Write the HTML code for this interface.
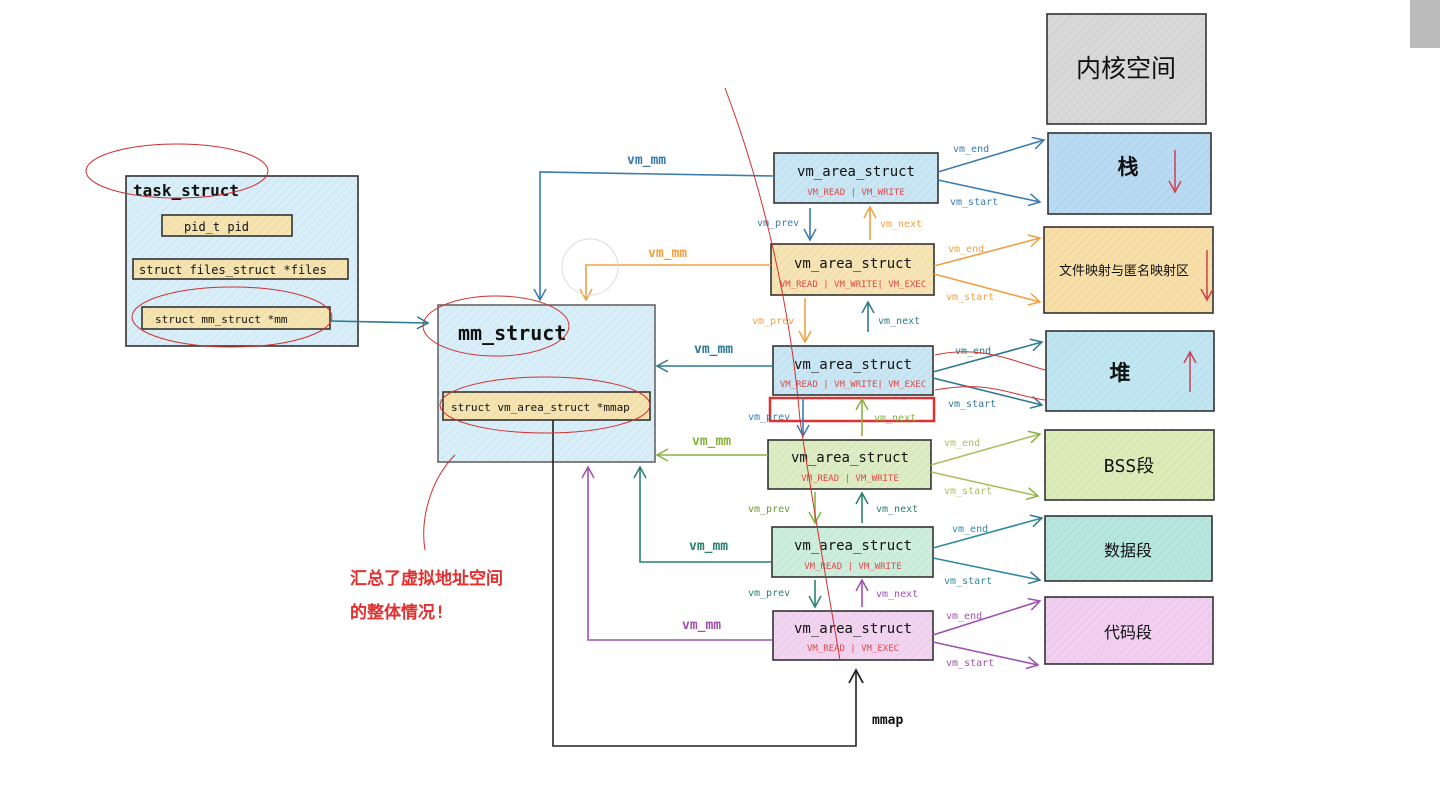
<!DOCTYPE html>
<html><head><meta charset="utf-8"><style>
html,body{margin:0;padding:0;background:#fff}
svg{display:block}
text{font-family:"DejaVu Sans Mono","Liberation Mono",monospace}
.cn{font-family:"Liberation Sans","Noto Sans CJK SC",sans-serif}
</style></head><body>
<svg width="1440" height="795" viewBox="0 0 1440 795" xmlns="http://www.w3.org/2000/svg">
<defs>
<pattern id="h" width="6" height="6" patternUnits="userSpaceOnUse" patternTransform="rotate(45)"><line x1="0" y1="0" x2="0" y2="6" stroke="#000" stroke-opacity="0.08" stroke-width="1"/></pattern>
<marker id="ab" markerWidth="14" markerHeight="14" refX="12" refY="7" orient="auto" markerUnits="userSpaceOnUse"><path d="M1,1 L12,7 L1,13" fill="none" stroke="#3b7bb0" stroke-width="1.5"/></marker>
<marker id="ao" markerWidth="14" markerHeight="14" refX="12" refY="7" orient="auto" markerUnits="userSpaceOnUse"><path d="M1,1 L12,7 L1,13" fill="none" stroke="#f0a040" stroke-width="1.5"/></marker>
<marker id="at" markerWidth="14" markerHeight="14" refX="12" refY="7" orient="auto" markerUnits="userSpaceOnUse"><path d="M1,1 L12,7 L1,13" fill="none" stroke="#2f7a90" stroke-width="1.5"/></marker>
<marker id="ag" markerWidth="14" markerHeight="14" refX="12" refY="7" orient="auto" markerUnits="userSpaceOnUse"><path d="M1,1 L12,7 L1,13" fill="none" stroke="#8ab040" stroke-width="1.5"/></marker>
<marker id="ad" markerWidth="14" markerHeight="14" refX="12" refY="7" orient="auto" markerUnits="userSpaceOnUse"><path d="M1,1 L12,7 L1,13" fill="none" stroke="#2a8070" stroke-width="1.5"/></marker>
<marker id="ap" markerWidth="14" markerHeight="14" refX="12" refY="7" orient="auto" markerUnits="userSpaceOnUse"><path d="M1,1 L12,7 L1,13" fill="none" stroke="#a050b0" stroke-width="1.5"/></marker>
<marker id="ak" markerWidth="16" markerHeight="16" refX="14" refY="8" orient="auto" markerUnits="userSpaceOnUse"><path d="M1,1 L14,8 L1,15" fill="none" stroke="#222" stroke-width="1.8"/></marker>
<marker id="ar" markerWidth="14" markerHeight="14" refX="12" refY="7" orient="auto" markerUnits="userSpaceOnUse"><path d="M1,1 L12,7 L1,13" fill="none" stroke="#d04050" stroke-width="1.5"/></marker>
</defs>
<g stroke="#333" stroke-width="1.6">
<rect x="126" y="176" width="232" height="170" fill="#d8eef8"/>
<rect x="162" y="215" width="130" height="21" fill="#f5e3b0"/>
<rect x="133" y="259" width="215" height="20" fill="#f5e3b0"/>
<rect x="142" y="307" width="188" height="22" fill="#f5e3b0"/>
<rect x="438" y="305" width="217" height="157" fill="#d8eef8" stroke="#666"/>
<rect x="443" y="392" width="207" height="28" fill="#f5e3b0"/>
<rect x="774" y="153" width="164" height="50" fill="#c8e6f4"/>
<rect x="771" y="244" width="163" height="51" fill="#f7e4b4"/>
<rect x="773" y="346" width="160" height="49" fill="#c8e6f4"/>
<rect x="768" y="440" width="163" height="49" fill="#dcedc4"/>
<rect x="772" y="527" width="161" height="50" fill="#cdeedd"/>
<rect x="773" y="611" width="160" height="49" fill="#f2d4f0"/>
<rect x="1047" y="14" width="159" height="110" fill="#d8d8d8"/>
<rect x="1048" y="133" width="163" height="81" fill="#b8daf2"/>
<rect x="1044" y="227" width="169" height="86" fill="#f8dfa8"/>
<rect x="1046" y="331" width="168" height="80" fill="#c0e6f2"/>
<rect x="1045" y="430" width="169" height="70" fill="#dcecb8"/>
<rect x="1045" y="516" width="167" height="65" fill="#b6e6de"/>
<rect x="1045" y="597" width="168" height="67" fill="#f2cef0"/>
</g>
<g fill="url(#h)" stroke="none">
<rect x="126" y="176" width="232" height="170"/><rect x="438" y="305" width="217" height="157"/>
<rect x="774" y="153" width="164" height="50"/><rect x="771" y="244" width="163" height="51"/><rect x="773" y="346" width="160" height="49"/><rect x="768" y="440" width="163" height="49"/><rect x="772" y="527" width="161" height="50"/><rect x="773" y="611" width="160" height="49"/>
<rect x="1047" y="14" width="159" height="110"/><rect x="1048" y="133" width="163" height="81"/><rect x="1044" y="227" width="169" height="86"/><rect x="1046" y="331" width="168" height="80"/><rect x="1045" y="430" width="169" height="70"/><rect x="1045" y="516" width="167" height="65"/><rect x="1045" y="597" width="168" height="67"/>
</g>
<rect x="770" y="398" width="164" height="23" fill="none" stroke="#e03030" stroke-width="2.5"/>
<g fill="#111">
<text x="133" y="196" font-size="16" font-weight="bold">task_struct</text>
<text x="184" y="231" font-size="12">pid_t  pid</text>
<text x="139" y="274" font-size="12">struct files_struct *files</text>
<text x="155" y="323" font-size="11">struct mm_struct    *mm</text>
<text x="458" y="340" font-size="20" font-weight="bold">mm_struct</text>
<text x="451" y="411" font-size="11">struct vm_area_struct *mmap</text>
<g font-size="14" text-anchor="middle">
<text x="856" y="176">vm_area_struct</text>
<text x="853" y="268">vm_area_struct</text>
<text x="853" y="369">vm_area_struct</text>
<text x="850" y="462">vm_area_struct</text>
<text x="853" y="550">vm_area_struct</text>
<text x="853" y="633">vm_area_struct</text>
</g>
<g class="cn" text-anchor="middle">
<text x="1126" y="77" font-size="25">内核空间</text>
<text x="1128" y="174" font-size="21" font-weight="bold">栈</text>
<text x="1124" y="275" font-size="13">文件映射与匿名映射区</text>
<text x="1120" y="380" font-size="21" font-weight="bold">堆</text>
<text x="1129" y="472" font-size="18">BSS段</text>
<text x="1128" y="556" font-size="16">数据段</text>
<text x="1128" y="638" font-size="16">代码段</text>
</g>
<text x="872" y="724" font-size="13" font-weight="bold">mmap</text>
</g>
<g fill="#e04848" font-size="9" text-anchor="middle">
<text x="856" y="195">VM_READ | VM_WRITE</text>
<text x="853" y="287">VM_READ | VM_WRITE| VM_EXEC</text>
<text x="853" y="387">VM_READ | VM_WRITE| VM_EXEC</text>
<text x="850" y="481">VM_READ | VM_WRITE</text>
<text x="853" y="569">VM_READ | VM_WRITE</text>
<text x="853" y="651">VM_READ | VM_EXEC</text>
</g>
<g class="cn" fill="#e03030" font-size="17" font-weight="bold">
<text x="350" y="584">汇总了虚拟地址空间</text>
<text x="350" y="618">的整体情况!</text>
</g>
<line x1="1175" y1="150" x2="1175" y2="192" stroke="#d04050" stroke-width="1.5" marker-end="url(#ar)"/>
<line x1="1207" y1="250" x2="1207" y2="300" stroke="#d04050" stroke-width="1.5" marker-end="url(#ar)"/>
<line x1="1190" y1="392" x2="1190" y2="352" stroke="#d04050" stroke-width="1.5" marker-end="url(#ar)"/>
<g fill="none" stroke-width="1.6">
<line x1="330" y1="321" x2="428" y2="323" stroke="#2f7a90" marker-end="url(#at)"/>
<polyline points="774,176 540,172 540,300" stroke="#3b7bb0" marker-end="url(#ab)"/>
<polyline points="771,265 586,265 586,300" stroke="#f0a040" marker-end="url(#ao)"/>
<line x1="773" y1="366" x2="657" y2="366" stroke="#2f7a90" marker-end="url(#at)"/>
<line x1="768" y1="455" x2="657" y2="455" stroke="#8ab040" marker-end="url(#ag)"/>
<polyline points="772,562 640,562 640,467" stroke="#2a8070" marker-end="url(#ad)"/>
<polyline points="772,640 588,640 588,467" stroke="#a050b0" marker-end="url(#ap)"/>
<polyline points="553,420 553,746 856,746 856,670" stroke="#222" marker-end="url(#ak)"/>
<line x1="810" y1="208" x2="810" y2="240" stroke="#3b7bb0" marker-end="url(#ab)"/>
<line x1="870" y1="240" x2="870" y2="207" stroke="#f0a040" marker-end="url(#ao)"/>
<line x1="805" y1="298" x2="805" y2="342" stroke="#f0a040" marker-end="url(#ao)"/>
<line x1="868" y1="332" x2="868" y2="302" stroke="#2f7a90" marker-end="url(#at)"/>
<line x1="803" y1="398" x2="803" y2="436" stroke="#3b7bb0" marker-end="url(#ab)"/>
<line x1="862" y1="436" x2="862" y2="399" stroke="#8ab040" marker-end="url(#ag)"/>
<line x1="815" y1="492" x2="815" y2="523" stroke="#8ab040" marker-end="url(#ag)"/>
<line x1="862" y1="523" x2="862" y2="493" stroke="#2a8070" marker-end="url(#ad)"/>
<line x1="815" y1="580" x2="815" y2="607" stroke="#2a8070" marker-end="url(#ad)"/>
<line x1="862" y1="607" x2="862" y2="580" stroke="#a050b0" marker-end="url(#ap)"/>
<line x1="938" y1="172" x2="1044" y2="140" stroke="#3b7bb0" marker-end="url(#ab)"/>
<line x1="938" y1="180" x2="1040" y2="202" stroke="#3b7bb0" marker-end="url(#ab)"/>
<line x1="934" y1="266" x2="1040" y2="238" stroke="#f0a040" marker-end="url(#ao)"/>
<line x1="934" y1="274" x2="1040" y2="302" stroke="#f0a040" marker-end="url(#ao)"/>
<line x1="933" y1="372" x2="1042" y2="342" stroke="#2f7a90" marker-end="url(#at)"/>
<line x1="933" y1="378" x2="1042" y2="405" stroke="#2f7a90" marker-end="url(#at)"/>
<line x1="931" y1="465" x2="1040" y2="434" stroke="#a8c060" marker-end="url(#ag)"/>
<line x1="931" y1="472" x2="1038" y2="496" stroke="#a8c060" marker-end="url(#ag)"/>
<line x1="933" y1="548" x2="1042" y2="518" stroke="#2f8aa0" marker-end="url(#at)"/>
<line x1="933" y1="558" x2="1040" y2="580" stroke="#2f8aa0" marker-end="url(#at)"/>
<line x1="933" y1="635" x2="1040" y2="601" stroke="#a050b0" marker-end="url(#ap)"/>
<line x1="933" y1="642" x2="1038" y2="665" stroke="#a050b0" marker-end="url(#ap)"/>
</g>
<g font-size="13" font-weight="bold">
<text x="627" y="164" fill="#3b7bb0">vm_mm</text>
<text x="648" y="257" fill="#f0a040">vm_mm</text>
<text x="694" y="353" fill="#2f7a90">vm_mm</text>
<text x="692" y="445" fill="#8ab040">vm_mm</text>
<text x="689" y="550" fill="#2a8070">vm_mm</text>
<text x="682" y="629" fill="#a050b0">vm_mm</text>
</g>
<g font-size="10">
<text x="757" y="226" fill="#3b7bb0">vm_prev</text><text x="880" y="227" fill="#f0a040">vm_next</text>
<text x="752" y="324" fill="#f0a040">vm_prev</text><text x="878" y="324" fill="#2f7a90">vm_next</text>
<text x="748" y="420" fill="#3b7bb0">vm_prev</text><text x="874" y="421" fill="#8ab040">vm_next</text>
<text x="748" y="512" fill="#6a9a30">vm_prev</text><text x="876" y="512" fill="#2a8070">vm_next</text>
<text x="748" y="596" fill="#2a8070">vm_prev</text><text x="876" y="597" fill="#a050b0">vm_next</text>
<text x="953" y="152" fill="#3b7bb0">vm_end</text><text x="950" y="205" fill="#3b7bb0">vm_start</text>
<text x="948" y="252" fill="#f0a040">vm_end</text><text x="946" y="300" fill="#f0a040">vm_start</text>
<text x="955" y="354" fill="#2f7a90">vm_end</text><text x="948" y="407" fill="#2f7a90">vm_start</text>
<text x="944" y="446" fill="#a8c060">vm_end</text><text x="944" y="494" fill="#a8c060">vm_start</text>
<text x="952" y="532" fill="#2f8aa0">vm_end</text><text x="944" y="584" fill="#2f8aa0">vm_start</text>
<text x="946" y="619" fill="#a050b0">vm_end</text><text x="946" y="666" fill="#a050b0">vm_start</text>
</g>
<g fill="none" stroke="#d03030" stroke-width="1">
<ellipse cx="177" cy="171" rx="91" ry="27"/>
<ellipse cx="232" cy="317" rx="100" ry="30"/>
<ellipse cx="496" cy="326" rx="73" ry="30"/>
<ellipse cx="545" cy="405" rx="105" ry="28"/>
<path d="M725,88 C760,180 790,300 800,420 C815,520 830,600 840,660"/>
<path d="M455,455 C430,480 420,520 425,550"/>
<path d="M935,355 C980,345 1010,360 1045,370 M935,390 C990,380 1010,395 1045,400"/>
</g>
<circle cx="590" cy="267" r="28" fill="none" stroke="#ddd" stroke-width="1"/>
<rect x="1410" y="0" width="30" height="48" fill="#bbb"/>
</svg>
</body></html>
